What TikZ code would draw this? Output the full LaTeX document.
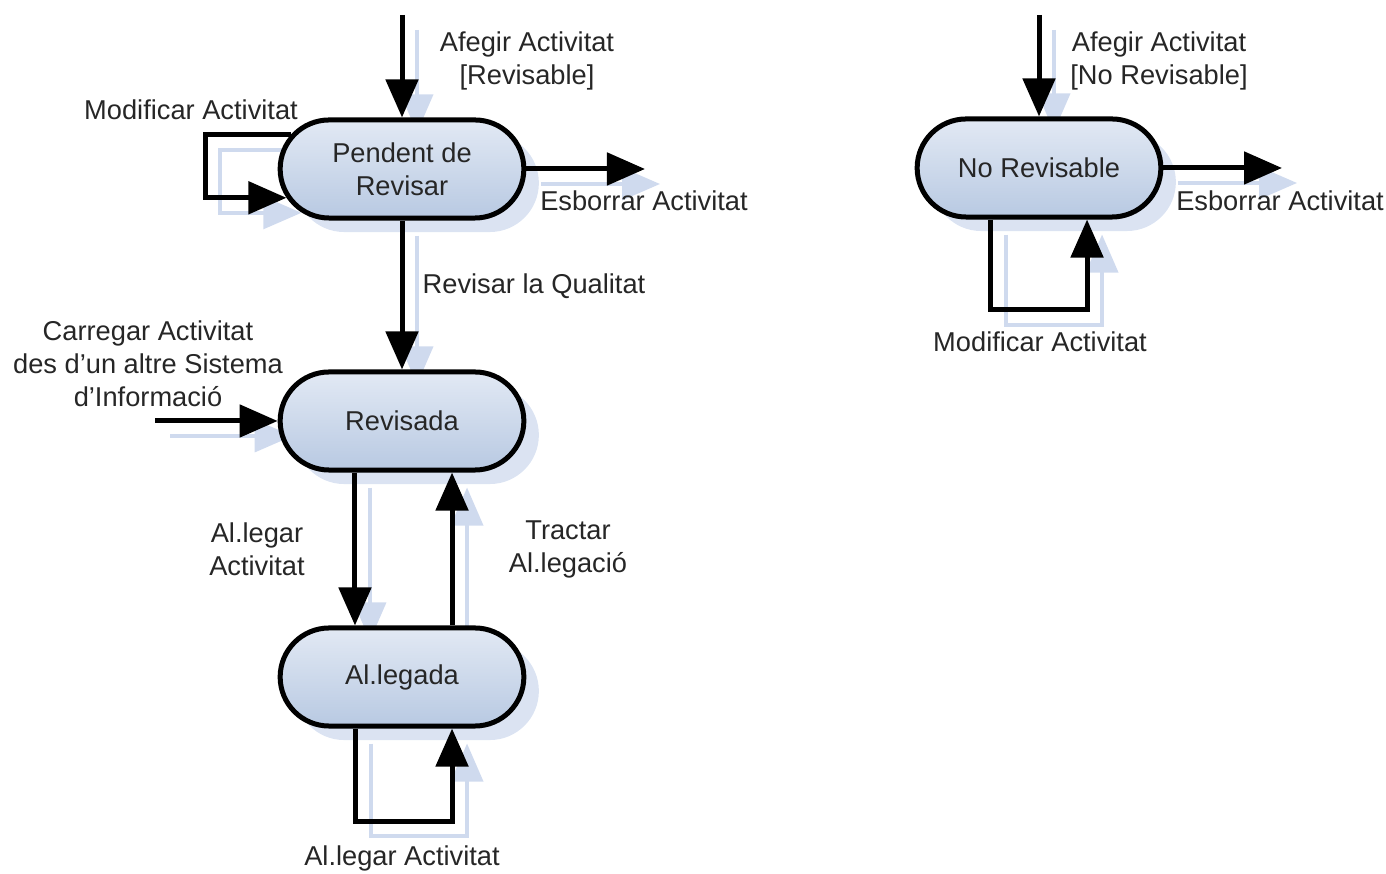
\documentclass[tikz,border=0pt]{standalone}
\usepackage{fontspec}
\setmainfont{Liberation Sans}
\usepackage{xcolor}
\usepackage{tikz}
\usetikzlibrary{shapes.misc}
\usetikzlibrary{shadows}
\usetikzlibrary{arrows.meta}

\definecolor{statefill}{HTML}{B8C9E2}
\definecolor{statelight}{HTML}{E2E9F4}
\definecolor{ghostblue}{HTML}{CFDAEE}
\pgfdeclarelayer{back}
\pgfsetlayers{back,main}

% all transitions, drawn once pale (behind) and once black
\newcommand{\transitions}{%
  \draw[flow] (inPend) -- (pend.north);
  \draw[flow] (pend.163.6) -| (loopPend) |- (pend.194);
  \draw[flow] (pend.east) -- (outPend);
  \draw[flow] (pend.south) -- (rev.north);
  \draw[flow] (inRev) -- (rev.west);
  \draw[flow] ([xshift=-0.47cm]rev.south) -- ([xshift=-0.47cm]alleg.north);
  \draw[flow] ([xshift=0.5cm]alleg.north) -- ([xshift=0.5cm]rev.south);
  \draw[flow] ([xshift=-0.46cm]alleg.south) |- (loopAlleg) -| ([xshift=0.5cm]alleg.south);
  \draw[flow] (inNorev) -- (norev.north);
  \draw[flow] (norev.east) -- (outNorev);
  \draw[flow] ([xshift=-0.48cm]norev.south) |- (loopNorev) -| ([xshift=0.48cm]norev.south);
}

\begin{document}
\begin{tikzpicture}[x=0.01cm, y=-0.01cm,
    state/.style={rounded rectangle, draw=black, line width=0.05cm,
      minimum width=2.67cm, minimum height=0.98cm, align=center,
      text=black!85, font=\fontsize{7.75}{9.4}\selectfont,
      top color=statelight, bottom color=statefill,
      drop shadow={fill=ghostblue, opacity=0.75, shadow xshift=0.15cm, shadow yshift=-0.14cm}},
    flow/.style={-{Triangle[length=0.38cm, width=0.32cm]}, line width=0.05cm, draw=black},
    ghost/.style={-{Triangle[length=0.38cm, width=0.32cm]}, line width=0.035cm, draw=ghostblue},
    lbl/.style={align=center, inner sep=0pt, text=black!85, font=\fontsize{7.75}{9.4}\selectfont}]
  \useasboundingbox (0,0) rectangle (1386,874);
  % states
  \node[state] (pend) at (402,169) {Pendent de\\Revisar};
  \node[state] (rev) at (402,421) {Revisada};
  \node[state] (alleg) at (402,677) {Al.legada};
  \node[state] (norev) at (1039,168) {No Revisable};
  % free ends of the transitions
  \coordinate (inPend) at (402,15);
  \coordinate (loopPend) at (205,167);
  \coordinate (outPend) at (645,169);
  \coordinate (inRev) at (155,421);
  \coordinate (loopAlleg) at (402,821);
  \coordinate (inNorev) at (1039,15);
  \coordinate (outNorev) at (1282,168);
  \coordinate (loopNorev) at (1039,310);
  % labels
  \node[lbl] (lAfegirRev) at (527,61) {Afegir Activitat\\{[Revisable]}};
  \node[lbl] (lModifPend) at (191,110) {Modificar Activitat};
  \node[lbl] (lEsborrPend) at (644,201) {Esborrar Activitat};
  \node[lbl] (lRevisar) at (534,286) {Revisar la Qualitat};
  \node[lbl] (lCarregar) at (148,364) {Carregar Activitat\\des d'un altre Sistema\\d'Informació};
  \node[lbl] (lAllegar) at (257,549) {Al.legar\\Activitat};
  \node[lbl] (lTractar) at (568,549) {Tractar\\Al.legació};
  \node[lbl] (lAllegarLoop) at (402,858) {Al.legar Activitat};
  \node[lbl] (lAfegirNo) at (1159,61) {Afegir Activitat\\{[No Revisable]}};
  \node[lbl] (lEsborrNo) at (1280,201) {Esborrar Activitat};
  \node[lbl] (lModifNo) at (1040,342) {Modificar Activitat};
  % transitions, with their pale copies behind
  \begin{pgfonlayer}{back}
    \begin{scope}[transform canvas={xshift=0.15cm, yshift=-0.15cm}]
      \tikzset{flow/.style={ghost}}
      \transitions
    \end{scope}
  \end{pgfonlayer}
  \transitions
\end{tikzpicture}
\end{document}
